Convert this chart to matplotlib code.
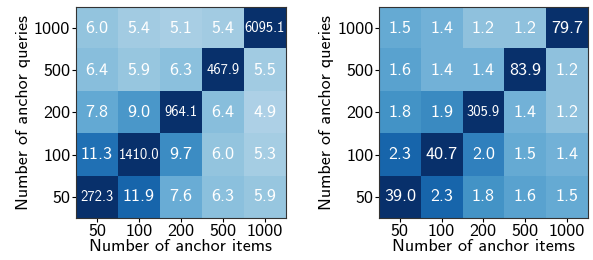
import matplotlib
matplotlib.use("Agg")
import matplotlib.pyplot as plt
import numpy as np

items = [50, 100, 200, 500, 1000]
queries = [50, 100, 200, 500, 1000]

# rows: queries 50,100,200,500,1000 (bottom to top); cols: items 50..1000
left_vals = [
    [272.3, 11.9, 7.6, 6.3, 5.9],
    [11.3, 1410.0, 9.7, 6.0, 5.3],
    [7.8, 9.0, 964.1, 6.4, 4.9],
    [6.4, 5.9, 6.3, 467.9, 5.5],
    [6.0, 5.4, 5.1, 5.4, 6095.1],
]
right_vals = [
    [39.0, 2.3, 1.8, 1.6, 1.5],
    [2.3, 40.7, 2.0, 1.5, 1.4],
    [1.8, 1.9, 305.9, 1.4, 1.2],
    [1.6, 1.4, 1.4, 83.9, 1.2],
    [1.5, 1.4, 1.2, 1.2, 79.7],
]

plt.rcParams['font.family'] = ['cmss10', 'DejaVu Sans']
plt.rcParams['axes.unicode_minus'] = False

fig = plt.figure(figsize=(5.93, 2.6), dpi=100)
ax1 = fig.add_axes([0.128, 0.1615, 0.354, 0.812])
ax2 = fig.add_axes([0.639, 0.1615, 0.352, 0.812])

def draw(ax, vals, vmax):
    arr = np.array(vals)
    ax.imshow(arr, cmap='Blues', vmin=0, vmax=vmax, origin='lower', aspect='auto')
    for i in range(arr.shape[0]):
        for j in range(arr.shape[1]):
            s = f"{arr[i, j]:.1f}"
            fs = 10.5 if len(s) >= 5 else 13
            ax.text(j, i, s, ha='center', va='center', color='white', fontsize=fs)
    ax.set_xticks(range(len(items)))
    ax.set_xticklabels([str(v) for v in items], fontsize=13)
    ax.set_yticks(range(len(queries)))
    ax.set_yticklabels([str(v) for v in queries], fontsize=13)
    ax.set_xlabel('Number of anchor items', fontsize=13, labelpad=0)
    ax.set_ylabel('Number of anchor queries', fontsize=13, labelpad=2)
    ax.tick_params(length=3, pad=1)
    for sp in ax.spines.values():
        sp.set_color('#333333')

draw(ax1, left_vals, 15)
draw(ax2, right_vals, 2.9)

fig.savefig('out.png', dpi=100)
